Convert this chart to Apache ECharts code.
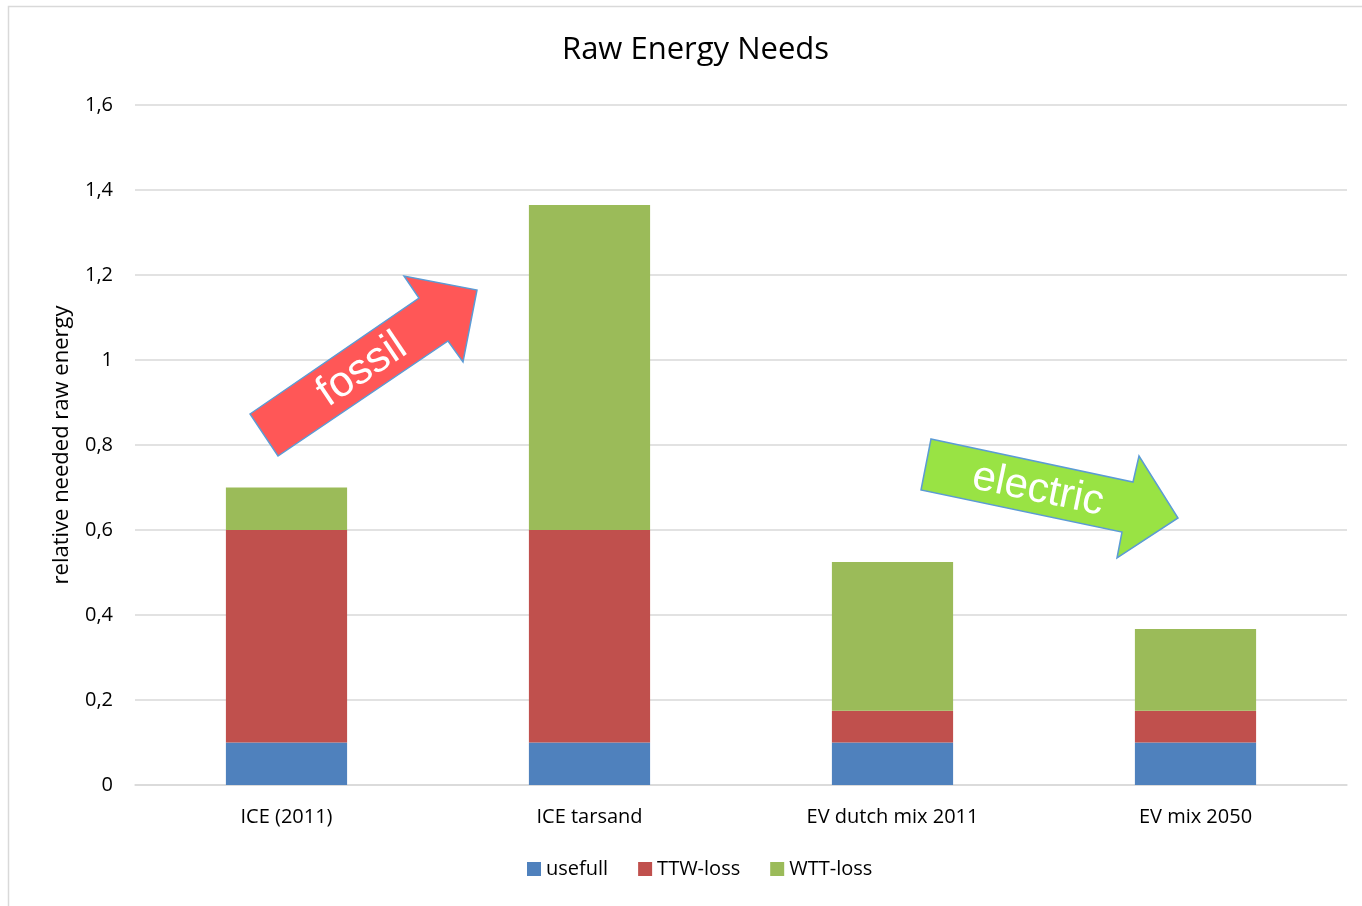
<!DOCTYPE html>
<html>
<head>
<meta charset="utf-8">
<title>Raw Energy Needs</title>
<script src="https://cdn.jsdelivr.net/npm/echarts@6/dist/echarts.min.js"></script>
<style>
  html, body { margin: 0; padding: 0; background: #fff; }
  #chart { width: 1362px; height: 906px; }
</style>
</head>
<body>
<div id="chart"></div>
<script>
// data
const categories = ['ICE (2011)', 'ICE tarsand', 'EV dutch mix 2011', 'EV mix 2050']
const usefull = [0.1, 0.1, 0.1, 0.1]
const ttwLoss = [0.5, 0.5, 0.075, 0.075]
const wttLoss = [0.1, 0.765, 0.35, 0.192]
const seriesNames = ['usefull', 'TTW-loss', 'WTT-loss']
const colors = ['#4f81bd', '#c0504d', '#9bbb59']

const font = 'Open Sans, Noto Sans, sans-serif'
const chart = echarts.init(document.getElementById('chart'))

// arrow shapes (annotations, pixel positions)
const fossilArrow = [[250, 414], [419, 298], [404, 276], [477, 290], [463, 362], [448, 341], [278, 456]]
const electricArrow = [[931, 439], [1133, 482], [1139, 456], [1178, 518], [1117, 558], [1122, 532], [921, 490]]

const option = {
  animation: false,
  color: colors,
  title: {
    text: 'Raw Energy Needs',
    left: 557,
    top: 30,
    textStyle: { fontFamily: font, fontSize: 31, fontWeight: 'normal', color: '#000' }
  },
  legend: {
    data: seriesNames,
    bottom: 22,
    left: 522,
    itemWidth: 14,
    itemHeight: 14,
    itemGap: 30,
    icon: 'rect',
    textStyle: { fontFamily: font, fontSize: 20, color: '#000' }
  },
  grid: { left: 135, right: 15, top: 105, bottom: 121 },
  xAxis: {
    type: 'category',
    data: categories,
    axisTick: { show: false },
    axisLine: { lineStyle: { color: '#d9d9d9', width: 1.5 } },
    axisLabel: { fontFamily: font, fontSize: 20, color: '#000', margin: 22 }
  },
  yAxis: {
    type: 'value',
    min: 0,
    max: 1.6,
    interval: 0.2,
    name: 'relative needed raw energy',
    nameLocation: 'middle',
    nameGap: 62,
    nameTextStyle: { fontFamily: font, fontSize: 22, color: '#000' },
    axisLine: { show: false },
    axisTick: { show: false },
    axisLabel: {
      fontFamily: font, fontSize: 20, color: '#000', margin: 22,
      formatter: v => String(Math.round(v * 10) / 10).replace('.', ',')
    },
    splitLine: { lineStyle: { color: '#d9d9d9', width: 1.5 } }
  },
  series: [
    { name: seriesNames[0], type: 'bar', stack: 'total', barWidth: '40%', data: usefull },
    { name: seriesNames[1], type: 'bar', stack: 'total', barWidth: '40%', data: ttwLoss },
    { name: seriesNames[2], type: 'bar', stack: 'total', barWidth: '40%', data: wttLoss }
  ],
  graphic: [
    {
      type: 'rect',
      shape: { x: 8.5, y: 6.5, width: 1400, height: 1000 },
      style: { fill: 'none', stroke: '#d9d9d9', lineWidth: 1.5 },
      silent: true
    },
    {
      type: 'polygon',
      shape: { points: fossilArrow },
      style: { fill: '#ff5757', stroke: '#5b9bd5', lineWidth: 1.5 },
      z: 100
    },
    {
      type: 'text',
      x: 362, y: 370,
      rotation: 34 * Math.PI / 180,
      style: {
        text: 'fossil', fill: '#fff', font: '43px Liberation Sans, Arial, sans-serif',
        align: 'center', verticalAlign: 'middle'
      },
      z: 101
    },
    {
      type: 'polygon',
      shape: { points: electricArrow },
      style: { fill: '#99e344', stroke: '#5b9bd5', lineWidth: 1.5 },
      z: 100
    },
    {
      type: 'text',
      x: 1038, y: 490,
      rotation: -11.7 * Math.PI / 180,
      style: {
        text: 'electric', fill: '#fff', font: '42px Liberation Sans, Arial, sans-serif',
        align: 'center', verticalAlign: 'middle'
      },
      z: 101
    }
  ]
}

chart.setOption(option)
</script>
</body>
</html>
